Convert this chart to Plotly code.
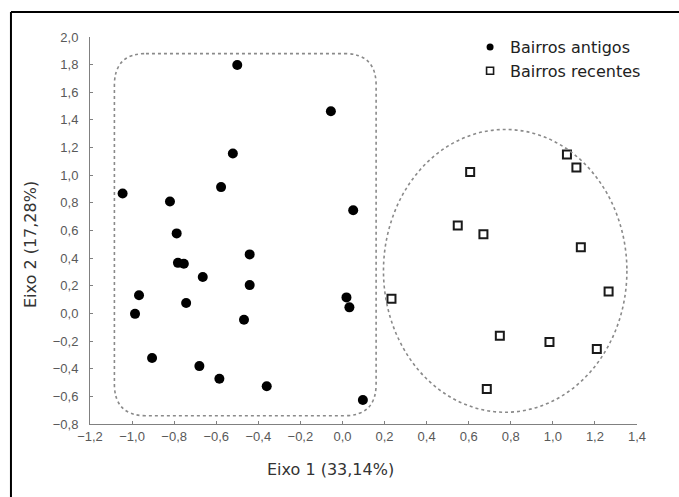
import plotly.graph_objects as go

# Bairros antigos (filled circles)
antigos_x = [-1.045, -0.820, -0.577, -0.521, -0.788, -0.500, -0.055, 0.051,
             -0.782, -0.754, -0.664, -0.967, -0.743, -0.986, -0.905, -0.680,
             -0.585, -0.441, -0.441, -0.468, -0.360, 0.019, 0.033, 0.097]
antigos_y = [0.868, 0.810, 0.914, 1.157, 0.579, 1.798, 1.463, 0.747,
             0.366, 0.359, 0.263, 0.131, 0.075, -0.003, -0.323, -0.381,
             -0.473, 0.427, 0.205, -0.046, -0.527, 0.116, 0.044, -0.626]

# Bairros recentes (open squares)
recentes_x = [1.067, 1.112, 0.607, 0.548, 0.670, 1.133, 1.265, 0.233,
              0.748, 0.984, 1.209, 0.686]
recentes_y = [1.150, 1.056, 1.024, 0.637, 0.572, 0.478, 0.159, 0.106,
              -0.162, -0.207, -0.258, -0.547]

x_ticks = [-1.2, -1.0, -0.8, -0.6, -0.4, -0.2, 0.0, 0.2, 0.4, 0.6, 0.8, 1.0, 1.2, 1.4]
x_ticktext = ["\u22121,2", "\u22121,0", "\u22120,8", "\u22120,6", "\u22120,4", "\u22120,2",
              "0,0", "0,2", "0,4", "0,6", "0,8", "1,0", "1,2", "1,4"]
y_ticks = [-0.8, -0.6, -0.4, -0.2, 0.0, 0.2, 0.4, 0.6, 0.8, 1.0, 1.2, 1.4, 1.6, 1.8, 2.0]
y_ticktext = ["\u22120,8", "\u22120,6", "\u22120,4", "\u22120,2", "0,0", "0,2", "0,4", "0,6",
              "0,8", "1,0", "1,2", "1,4", "1,6", "1,8", "2,0"]

fig = go.Figure()
fig.add_trace(go.Scatter(
    x=antigos_x, y=antigos_y, mode="markers", name="Bairros antigos", showlegend=False,
    marker=dict(symbol="circle", size=10, color="black", line=dict(width=0)),
))
fig.add_trace(go.Scatter(
    x=recentes_x, y=recentes_y, mode="markers", name="Bairros recentes", showlegend=False,
    marker=dict(symbol="square-open", size=8, color="#1a1a1a", line=dict(width=2)),
))
# legend entries (smaller symbols as in the reference legend)
fig.add_trace(go.Scatter(
    x=[None], y=[None], mode="markers", name="Bairros antigos",
    marker=dict(symbol="circle", size=7, color="black", line=dict(width=0)),
))
fig.add_trace(go.Scatter(
    x=[None], y=[None], mode="markers", name="Bairros recentes",
    marker=dict(symbol="square-open", size=7, color="#1a1a1a", line=dict(width=1.6)),
))

dot_line = dict(color="#8a8a8a", width=1.6, dash="dot")

# rounded rectangle around old neighbourhoods
L, R, T, B = -1.084, 0.160, 1.880, -0.740
rx, ry = 0.15, 0.23
path = (f"M {L+rx},{T} L {R-rx},{T} Q {R},{T} {R},{T-ry} "
        f"L {R},{B+ry} Q {R},{B} {R-rx},{B} "
        f"L {L+rx},{B} Q {L},{B} {L},{B+ry} "
        f"L {L},{T-ry} Q {L},{T} {L+rx},{T} Z")
fig.add_shape(type="path", path=path, xref="x", yref="y", line=dot_line)

# ellipse around recent neighbourhoods
fig.add_shape(type="circle", xref="x", yref="y", x0=0.195, x1=1.352, y0=-0.715, y1=1.331,
              line=dot_line)

# outer frame (top and left visible)
fig.add_shape(type="line", xref="paper", yref="paper", x0=-0.1445, x1=1.2, y0=1.0646, y1=1.0646,
              line=dict(color="black", width=2))
fig.add_shape(type="line", xref="paper", yref="paper", x0=-0.1445, x1=-0.1445, y0=1.0646, y1=-0.3,
              line=dict(color="black", width=2))

# axis titles
title_font = dict(family="DejaVu Sans", size=16, color="#333333")
fig.add_annotation(text="Eixo 1 (33,14%)", xref="paper", yref="paper",
                   x=(330 - 90) / 546.9, y=(424 - 469) / 387, xanchor="center", yanchor="middle",
                   showarrow=False, font=title_font)
fig.add_annotation(text="Eixo 2 (17,28%)", xref="paper", yref="paper",
                   x=(30 - 90) / 546.9, y=(424 - 244) / 387, xanchor="center", yanchor="middle",
                   textangle=-90, showarrow=False, font=title_font)

axis_common = dict(
    showgrid=False, zeroline=False, showline=True, linecolor="#808080", linewidth=1,
    ticks="inside", ticklen=3, tickcolor="#808080", tickwidth=1,
    tickfont=dict(family="Liberation Sans, Arial", size=13, color="#595959"),
    automargin=False,
)

fig.update_layout(
    width=679, height=497,
    margin=dict(l=90, r=42, t=37, b=73),
    paper_bgcolor="white", plot_bgcolor="white",
    showlegend=True,
    legend=dict(x=(470 - 90) / 546.9, y=1.018, xanchor="left", yanchor="top",
                font=dict(family="DejaVu Sans", size=16, color="#222222"),
                bgcolor="rgba(0,0,0,0)", tracegroupgap=0, itemsizing="trace"),
    xaxis=dict(range=[-1.2, 1.4], tickvals=x_ticks, ticktext=x_ticktext,
               ticklabelstandoff=0, **axis_common),
    yaxis=dict(range=[-0.8, 2.0], tickvals=y_ticks, ticktext=y_ticktext,
               ticklabelstandoff=8, **axis_common),
)

fig.write_html("out.html", config={"displayModeBar": False},
               post_script="document.body.style.margin='0px';document.body.style.overflow='hidden';")
